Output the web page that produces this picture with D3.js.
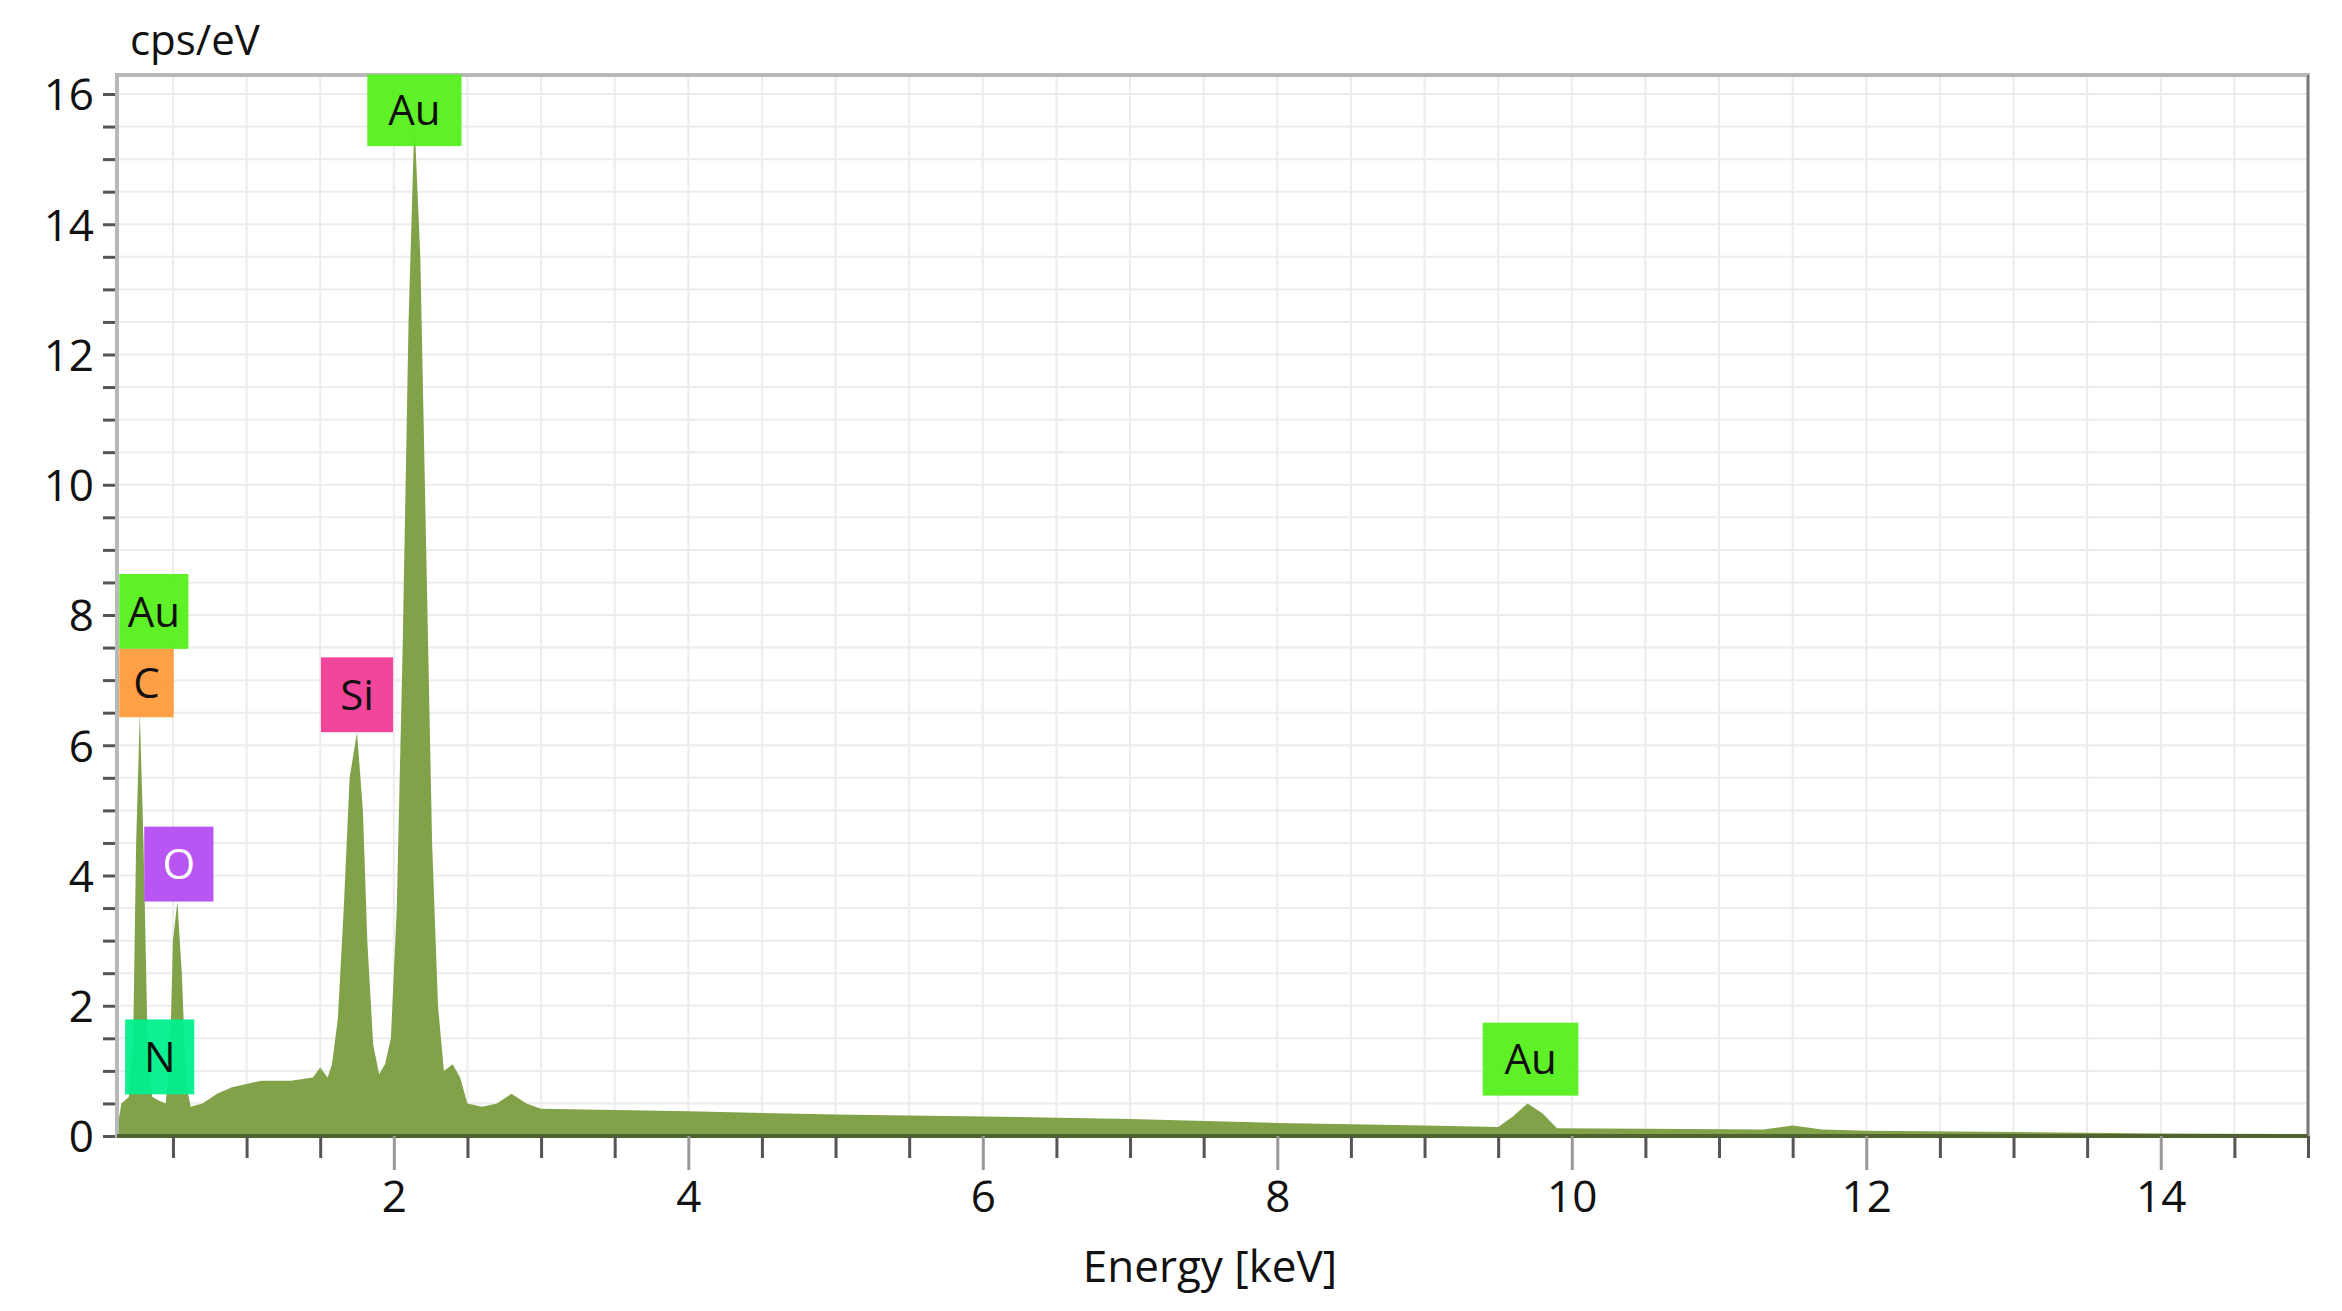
<!DOCTYPE html>
<html>
<head>
<meta charset="utf-8">
<script src="https://cdn.jsdelivr.net/npm/d3@7"></script>
<style>
  body { margin: 0; background: #fff; }
  text { font-family: "Open Sans", "Noto Sans", sans-serif; fill: #111; }
</style>
</head>
<body>
<svg id="chart" width="2342" height="1311"></svg>
<script>
// spectrum points: energy (keV) and cps/eV
const energy = [0.12,0.15,0.2,0.23,0.25,0.275,0.3,0.33,0.36,0.4,0.45,0.48,0.5,0.53,0.56,0.59,0.62,0.7,0.8,0.9,1.0,1.1,1.3,1.45,1.5,1.55,1.58,1.62,1.66,1.7,1.75,1.79,1.82,1.86,1.9,1.94,1.98,2.02,2.06,2.1,2.14,2.18,2.22,2.26,2.3,2.34,2.4,2.45,2.5,2.6,2.7,2.8,2.9,3.0,4,5,6,7,8,9,9.5,9.6,9.7,9.8,9.9,10.5,11.3,11.5,11.7,12,13,13.5,14,15];
const counts = [0.1,0.5,0.6,1.5,4.5,6.5,4.5,1.2,0.6,0.55,0.5,1.2,3.0,3.6,2.5,0.8,0.45,0.5,0.65,0.75,0.8,0.85,0.85,0.9,1.05,0.9,1.1,1.8,3.5,5.5,6.2,5.0,3.0,1.4,0.95,1.1,1.5,3.5,7.5,12.5,15.6,13.5,9.0,4.5,2.0,1.0,1.1,0.9,0.5,0.45,0.5,0.65,0.5,0.42,0.38,0.33,0.3,0.26,0.2,0.16,0.14,0.3,0.5,0.35,0.12,0.11,0.1,0.16,0.1,0.08,0.06,0.05,0.04,0.03];

// element markers: name, centre energy, top / bottom in cps/eV, colour
const labelNames  = ["Au", "Au", "C", "Si", "O", "N", "Au"];
const labelEnergy = [2.14, 0.37, 0.32, 1.75, 0.54, 0.41, 9.72];
const labelTop    = [16.3, 8.63, 7.48, 7.35, 4.75, 1.79, 1.74];
const labelBottom = [15.2, 7.48, 6.43, 6.2, 3.6, 0.64, 0.62];
const labelWidth  = [0.64, 0.47, 0.37, 0.49, 0.47, 0.47, 0.65];
const labelColor  = ["#55f01c", "#55f01c", "#ff9a3c", "#f03c96", "#b44cf2", "#00f08c", "#55f01c"];

const xTicks = [2, 4, 6, 8, 10, 12, 14];
const yTicks = [0, 2, 4, 6, 8, 10, 12, 14, 16];

const svg = d3.select('#chart');
const mLeft = 117, mRight = 2308, mTop = 75, mBottom = 1136;

const x = d3.scaleLinear().domain([0.12, 15.0]).range([mLeft, mRight]);
const y = d3.scaleLinear().domain([0, 16]).range([mBottom, 94]);

// grid every 0.5
const xg = d3.range(0.5, 15.01, 0.5);
const yg = d3.range(0.5, 16.51, 0.5).filter(v => y(v) > mTop);
svg.append('g').selectAll('line').data(xg).enter().append('line')
  .attr('x1', d => x(d)).attr('x2', d => x(d)).attr('y1', mTop).attr('y2', mBottom)
  .attr('stroke', '#ececec').attr('stroke-width', 2);
svg.append('g').selectAll('line').data(yg).enter().append('line')
  .attr('x1', mLeft).attr('x2', mRight).attr('y1', d => y(d)).attr('y2', d => y(d))
  .attr('stroke', '#ececec').attr('stroke-width', 2);

// spectrum
const pts = energy.map((e, i) => [e, counts[i]]);
const area = d3.area().x(d => x(d[0])).y0(mBottom).y1(d => y(d[1])).curve(d3.curveLinear);
svg.append('path').datum(pts).attr('d', area).attr('fill', '#82a24a');

// frame
svg.append('rect').attr('x', mLeft).attr('y', mTop).attr('width', mRight - mLeft).attr('height', mBottom - mTop)
  .attr('fill', 'none').attr('stroke', '#b8b8b8').attr('stroke-width', 4);
svg.append('line').attr('x1', mLeft).attr('x2', mRight).attr('y1', mBottom).attr('y2', mBottom)
  .attr('stroke', '#4f6330').attr('stroke-width', 4);
svg.append('line').attr('x1', mRight).attr('x2', mRight).attr('y1', mTop).attr('y2', mBottom + 12)
  .attr('stroke', '#777').attr('stroke-width', 2);

// y axis
const yAxis = d3.axisLeft(y).tickValues(d3.range(0, 16.01, 0.5)).tickSize(12)
  .tickFormat(d => yTicks.includes(d) ? d : '');
const gy = svg.append('g').attr('transform', `translate(${mLeft - 2},0)`).call(yAxis);
gy.select('.domain').remove();
gy.selectAll('line').attr('stroke', '#555').attr('stroke-width', 3);
gy.selectAll('text').attr('font-size', 44).attr('dx', -6).attr('dy', '0.36em');

// x axis
const xAxis = d3.axisBottom(x).tickValues(xg).tickSize(0).tickFormat(d => xTicks.includes(d) ? d : '');
const gx = svg.append('g').attr('transform', `translate(0,${mBottom})`).call(xAxis);
gx.select('.domain').remove();
gx.selectAll('.tick line').attr('y2', d => xTicks.includes(d) ? 34 : 22)
  .attr('stroke', d => xTicks.includes(d) ? '#999' : '#555').attr('stroke-width', 3);
gx.selectAll('text').attr('font-size', 44).attr('y', 76).attr('dy', 0);

// axis titles
svg.append('text').attr('x', 130).attr('y', 55).attr('font-size', 42).text('cps/eV');
svg.append('text').attr('x', 1210).attr('y', 1282).attr('font-size', 44).attr('text-anchor', 'middle').text('Energy [keV]');

// element markers
const lab = svg.append('g').selectAll('g').data(labelNames).enter().append('g');
lab.append('rect')
  .attr('x', (d, i) => x(labelEnergy[i] - labelWidth[i] / 2))
  .attr('y', (d, i) => y(labelTop[i]))
  .attr('width', (d, i) => x(labelWidth[i]) - x(0))
  .attr('height', (d, i) => y(labelBottom[i]) - y(labelTop[i]))
  .attr('fill', (d, i) => labelColor[i]).attr('opacity', 0.95);
lab.append('text')
  .attr('x', (d, i) => x(labelEnergy[i]))
  .attr('y', (d, i) => (y(labelTop[i]) + y(labelBottom[i])) / 2)
  .attr('dy', '0.36em').attr('text-anchor', 'middle').attr('font-size', 42)
  .style('fill', (d, i) => labelNames[i] === 'O' ? '#fff' : '#111')
  .text(d => d);
</script>
</body>
</html>
